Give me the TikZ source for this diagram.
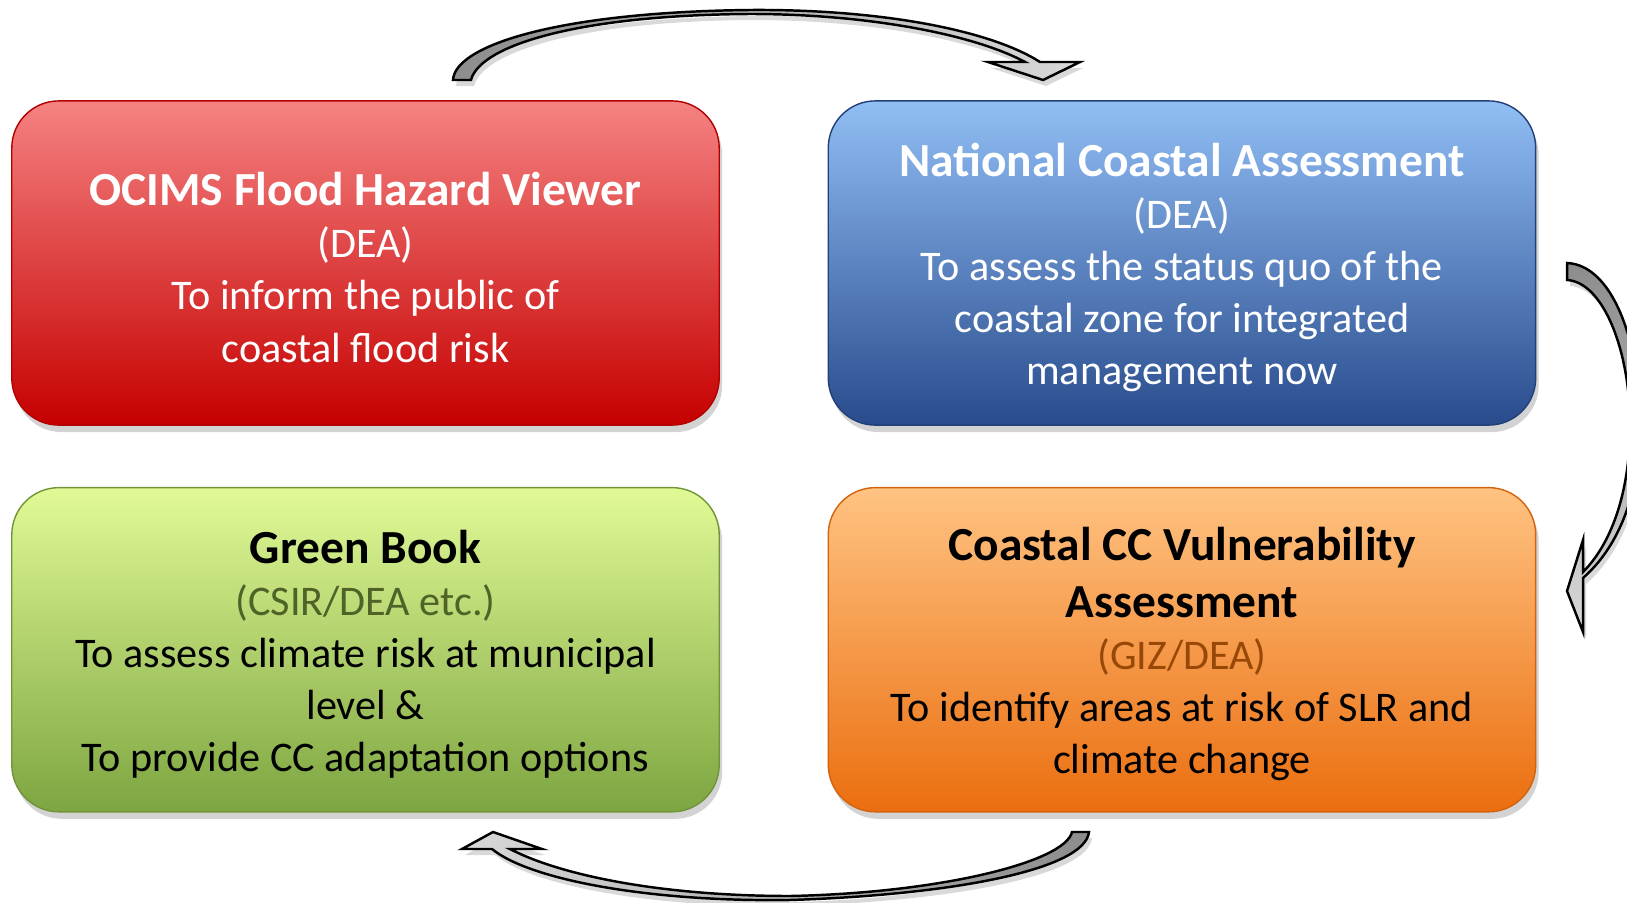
\documentclass[tikz,border=0pt]{standalone}
\usepackage{fontspec}
\setmainfont{Carlito}
\usepackage{tikz}
\usetikzlibrary{shadows}
\usetikzlibrary{positioning}

\definecolor{redtop}{RGB}{245,130,130}
\definecolor{redmid}{RGB}{215,30,30}
\definecolor{redbot}{RGB}{198,0,0}
\definecolor{bluetop}{RGB}{145,190,245}
\definecolor{bluemid}{RGB}{65,125,205}
\definecolor{bluebot}{RGB}{40,75,140}
\definecolor{greentop}{RGB}{225,250,150}
\definecolor{greenmid}{RGB}{180,215,110}
\definecolor{greenbot}{RGB}{125,165,65}
\definecolor{orangetop}{RGB}{255,195,130}
\definecolor{orangemid}{RGB}{250,150,60}
\definecolor{orangebot}{RGB}{235,110,15}
\definecolor{olivetext}{RGB}{79,98,40}
\definecolor{browntext}{RGB}{152,72,6}

\newcommand{\boxstrut}{\rule{0pt}{12pt}}
\newcommand{\boxtitle}[1]{{\fontsize{13.5}{16}\selectfont\bfseries #1}}

\begin{document}
\begin{tikzpicture}[
  x=0.01cm,
  y=-0.01cm,
  node distance=8.16cm
]

  \tikzstyle{box}=[rectangle,rounded corners=4.7mm,minimum width=7.07cm,minimum height=3.24cm,align=center,line width=0.4pt,font=\fontsize{12}{14.8}\selectfont,drop shadow={shadow xshift=0.3mm,shadow yshift=-0.7mm,opacity=0.35}]
  \tikzstyle{redbox}=[box,draw=redbot!90!black,top color=redtop,middle color=redmid,bottom color=redbot,text=white]
  \tikzstyle{bluebox}=[box,draw=bluebot!85!black,top color=bluetop,middle color=bluemid,bottom color=bluebot,text=white]
  \tikzstyle{greenbox}=[box,draw=greenbot!90!black,top color=greentop,middle color=greenmid,bottom color=greenbot,text=black]
  \tikzstyle{orangebox}=[box,draw=orangebot!90!black,top color=orangetop,middle color=orangemid,bottom color=orangebot,text=black]
  \tikzstyle{blockarrow}=[draw=black,line width=0.7pt,drop shadow={shadow xshift=0.3mm,shadow yshift=-0.6mm,opacity=0.3}]

  \clip (0,0) rectangle (1627,903);

  % boxes
  \node[redbox] (ocims) at (365.5,263) {\boxstrut\boxtitle{OCIMS Flood Hazard Viewer}\\ (DEA)\\ To inform the public of\\ coastal flood risk};
  \node[bluebox] (nca) [right of=ocims] {\boxstrut\boxtitle{National Coastal Assessment}\\ (DEA)\\ To assess the status quo of the\\ coastal zone for integrated\\ management now};
  \node[greenbox] (greenbook) [below of=ocims,node distance=3.865cm] {\boxstrut\boxtitle{Green Book}\\ \textcolor{olivetext}{(CSIR/DEA etc.)}\\ To assess climate risk at municipal\\ level \&\\ To provide CC adaptation options};
  \node[orangebox] (ccva) [below of=nca,node distance=3.865cm] {\boxstrut\boxtitle{Coastal CC Vulnerability}\\[1.5pt] \boxtitle{Assessment}\\ \textcolor{browntext}{(GIZ/DEA)}\\ To identify areas at risk of SLR and\\ climate change};

  % arrows
  \path[blockarrow,left color=black!45,right color=black!15]
    (453,80) .. controls (455,45) and (560,12) .. (750,10)
    .. controls (880,9) and (990,30) .. (1040,62)
    -- (1080,62) -- (1043,80) -- (988,62) -- (1025,62)
    .. controls (975,35) and (870,14) .. (750,14)
    .. controls (580,15) and (480,45) .. (471,80) -- cycle;

  \path[blockarrow,top color=black!45,bottom color=black!15]
    (1567,263) .. controls (1612,265) and (1640,340) .. (1640,425)
    .. controls (1640,500) and (1615,550) .. (1583,578)
    -- (1583,632) -- (1567,591) -- (1583,540) -- (1583,572)
    .. controls (1610,545) and (1630,495) .. (1630,425)
    .. controls (1630,350) and (1603,282) .. (1567,280) -- cycle;

  \path[blockarrow,right color=black!45,left color=black!15]
    (1089,832) .. controls (1085,870) and (950,895) .. (790,900)
    .. controls (650,902) and (530,880) .. (492,849)
    -- (462,849) -- (493,832) -- (542,849) -- (510,849)
    .. controls (560,875) and (660,896) .. (790,896)
    .. controls (940,893) and (1065,862) .. (1072,832) -- cycle;

\end{tikzpicture}
\end{document}
